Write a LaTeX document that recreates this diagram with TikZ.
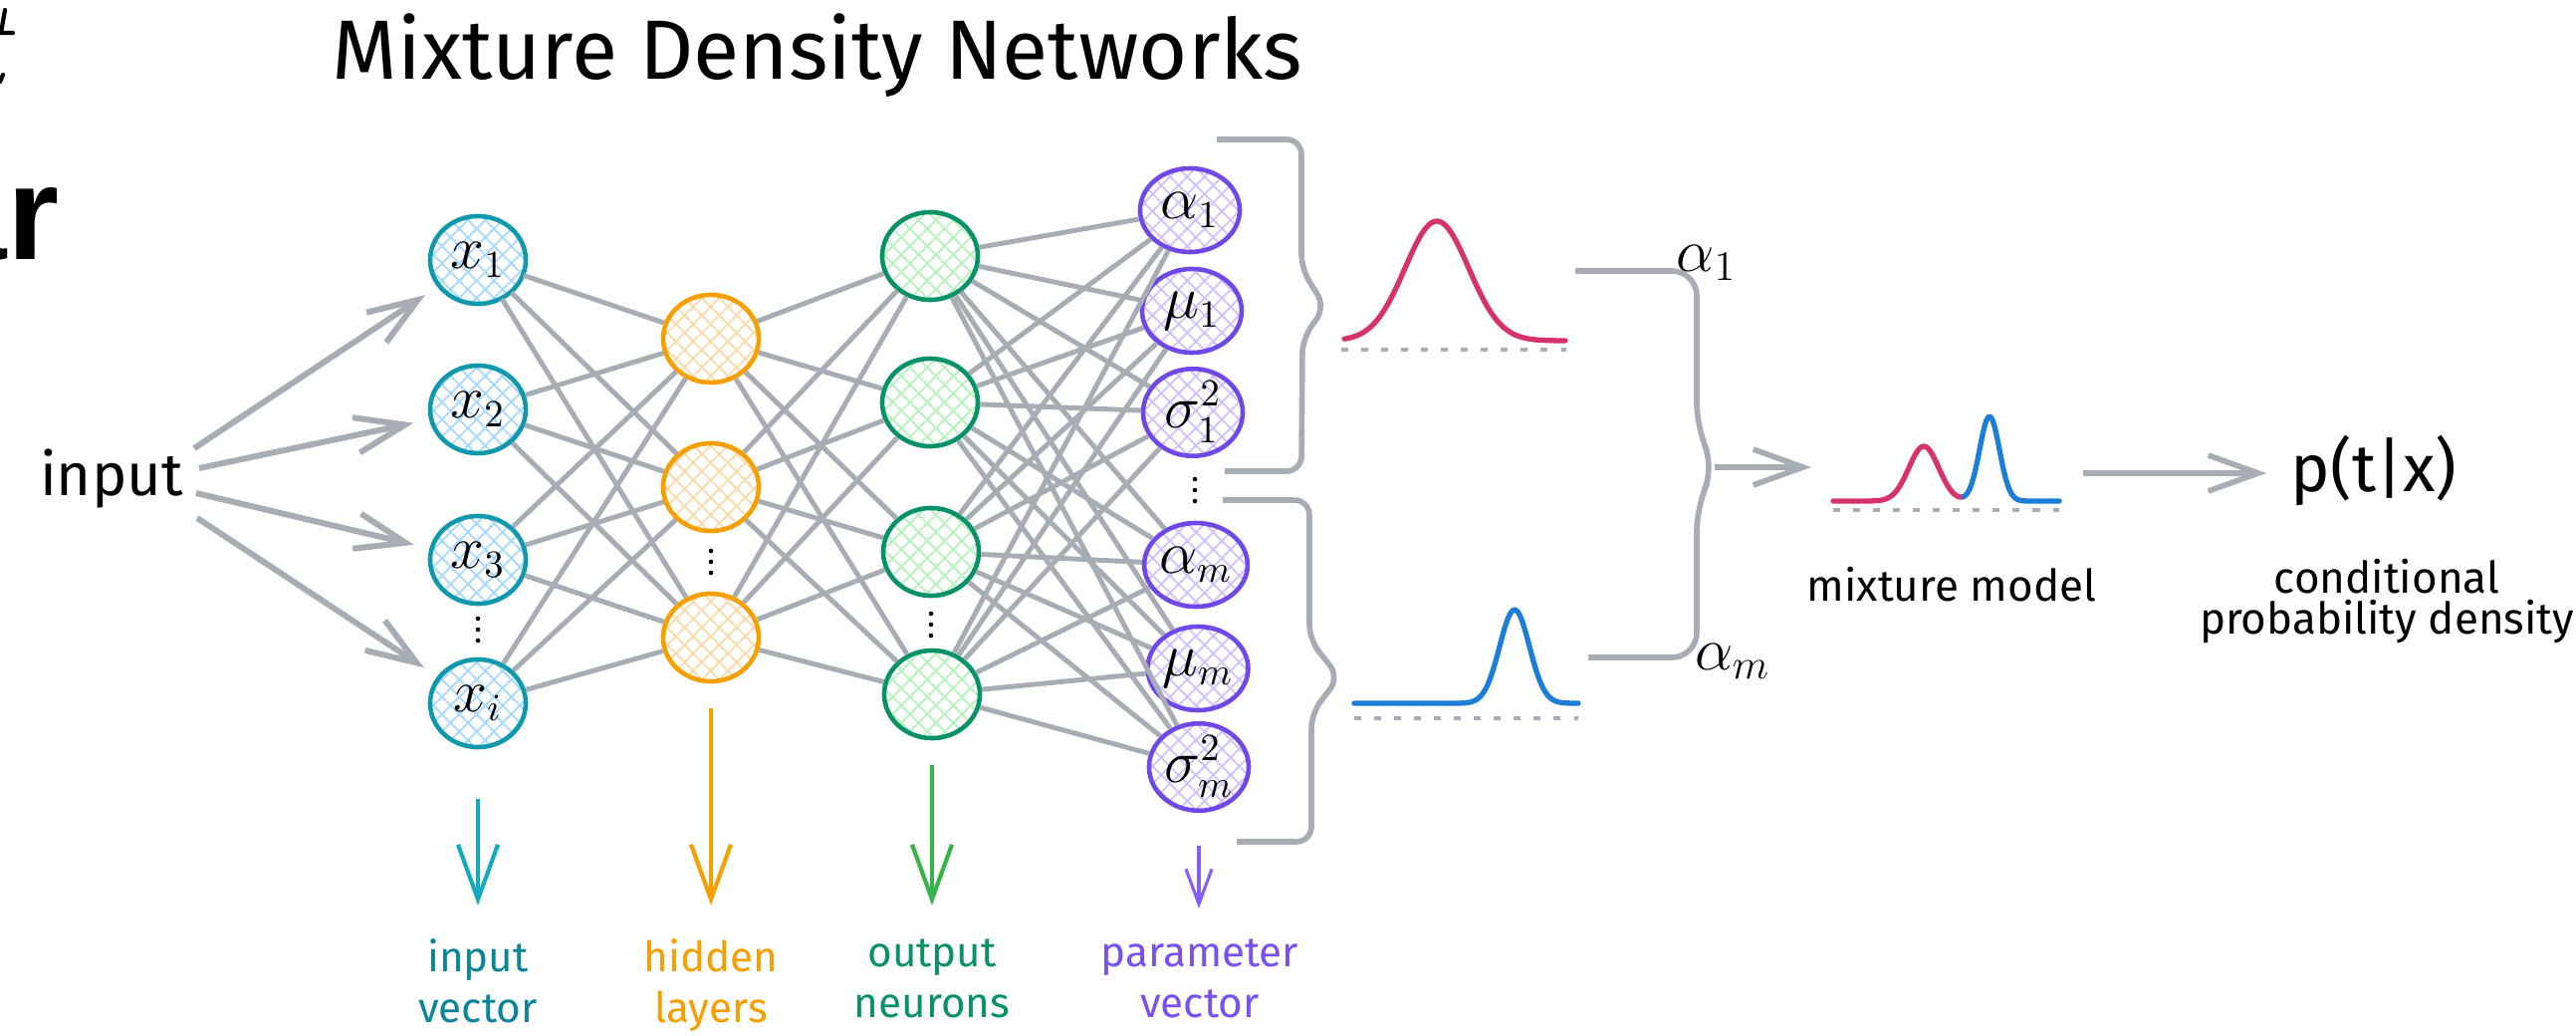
\documentclass[tikz,border=0pt]{standalone}
\usepackage{fontspec}
\setmainfont{Fira Sans}
\newfontfamily\fragfont{Liberation Sans}
\usetikzlibrary{arrows.meta,patterns.meta,shapes.geometric}
\definecolor{edgegray}{HTML}{A7ADB4}
\definecolor{tealB}{HTML}{1098AD}
\definecolor{tealH}{HTML}{A5D8FF}
\definecolor{tealA}{HTML}{15AABF}
\definecolor{tealT}{HTML}{0C8599}
\definecolor{orangeB}{HTML}{F59F00}
\definecolor{orangeH}{HTML}{FFD8A8}
\definecolor{greenB}{HTML}{099268}
\definecolor{greenH}{HTML}{B2F2BB}
\definecolor{greenA}{HTML}{37B24D}
\definecolor{violetB}{HTML}{7048E8}
\definecolor{violetH}{HTML}{D0BFFF}
\definecolor{violetA}{HTML}{845EF7}
\definecolor{violetT}{HTML}{7950F2}
\definecolor{gaussred}{HTML}{D6336C}
\definecolor{gaussblue}{HTML}{1C7ED6}

\begin{document}
\begin{tikzpicture}[x=0.01cm,y=-0.01cm,
  hatch/.style={preaction={pattern={Lines[angle=45,distance=3.5pt,line width=0.5pt]},pattern color=#1},
    pattern={Lines[angle=-45,distance=3.5pt,line width=0.5pt]},pattern color=#1},
  neuron/.style={ellipse,line width=1.3pt,minimum width=0.96cm,minimum height=0.88cm,
    inner sep=0pt,font=\fontsize{16}{16}\selectfont},
  tealnode/.style={neuron,draw=tealB,hatch=tealH},
  hidnode/.style={neuron,draw=orangeB,hatch=orangeH},
  outnode/.style={neuron,draw=greenB,hatch=greenH},
  parnode/.style={neuron,draw=violetB,hatch=violetH,minimum width=1.0cm,minimum height=0.84cm},
  edge/.style={draw=edgegray,line width=1.4pt},
  inarrow/.style={draw=edgegray,line width=1.7pt,-{Straight Barb[length=5mm,width=3.6mm]},shorten >=0.16cm},
  bigarrow/.style={draw=edgegray,line width=1.6pt,-{Straight Barb[length=5mm,width=3.6mm]}},
  brace/.style={draw=edgegray,line width=1.6pt,rounded corners=0.15cm},
  layerarrow/.style={line width=1.2pt,-{Straight Barb[length=5.5mm,width=4mm]},shorten <=0.25cm,shorten >=0.33cm},
  layerlabel/.style={anchor=north,align=center,inner sep=0pt,font=\fontsize{12}{14.5}\selectfont},
  baseline dash/.style={draw=edgegray,line width=0.9pt,dash pattern=on 2pt off 3.7pt},
  gauss/.style={line width=1.5pt,line join=round,line cap=round}]
  \useasboundingbox (0,0) rectangle (2587,1039);
  \fill[white] (0,0) rectangle (2587,1039);

  % cut-off fragments at the left border
  \node[font=\fragfont\bfseries\fontsize{38}{38}\selectfont,anchor=base east,inner sep=0pt] (frag) at (60,260) {ar};
  \draw[line width=1.2pt,line cap=round] (5,10) -- (1,33) -- (13,33);
  \draw[line width=1.2pt,line cap=round] (0,82) -- (3,75);

  \node[font=\fontsize{24}{28}\selectfont,anchor=base] (title) at (821,79) {Mixture Density Networks};

  % layers
  \node[tealnode] (in1) at (480,261) {$x_1$};
  \node[tealnode] (in2) at (480,411) {$x_2$};
  \node[tealnode] (in3) at (480,562) {$x_3$};
  \node[tealnode] (in4) at (480,706) {$x_i$};
  \node[hidnode] (hid1) at (714,340) {};
  \node[hidnode] (hid2) at (714,489) {};
  \node[hidnode] (hid3) at (714,640) {};
  \node[outnode] (out1) at (934,257) {};
  \node[outnode] (out2) at (934,404) {};
  \node[outnode] (out3) at (935,554) {};
  \node[outnode] (out4) at (936,697) {};
  \node[parnode] (par1) at (1195,211) {$\alpha_1$};
  \node[parnode] (par2) at (1197,312) {$\mu_1$};
  \node[parnode] (par3) at (1198,414) {$\sigma^2_1$};
  \node[parnode] (par4) at (1201,567) {$\alpha_m$};
  \node[parnode] (par5) at (1203,671) {$\mu_m$};
  \node[parnode] (par6) at (1204,770) {$\sigma^2_m$};
  % vertical dots between neurons
  \foreach \cx/\cy in {480/632, 714/564, 935/627, 1200/492} {
    \foreach \d in {-11,0,11} {\fill (\cx,{\cy+\d}) circle (2.3);}}

  \foreach \i in {1,...,4} {\foreach \j in {1,...,3} {\draw[edge] (in\i) -- (hid\j);}}
  \foreach \i in {1,...,3} {\foreach \j in {1,...,4} {\draw[edge] (hid\i) -- (out\j);}}
  \foreach \i in {1,...,4} {\foreach \j in {1,...,6} {\draw[edge] (out\i) -- (par\j);}}

  % input fan
  \node[font=\fontsize{17}{17}\selectfont,anchor=base,inner sep=0pt] (input) at (112,497) {input};
  \coordinate (inA) at (195,450);
  \coordinate (inB) at (200,470);
  \coordinate (inC) at (197,495);
  \coordinate (inD) at (198,520);
  \draw[inarrow] (inA) -- (in1);
  \draw[inarrow] (inB) -- (in2);
  \draw[inarrow] (inC) -- (in3);
  \draw[inarrow] (inD) -- (in4);

  % layer captions
  \node[layerlabel,text=tealT] (labin) at (480,942) {input\\vector};
  \node[layerlabel,text=orangeB] (labhid) at (714,942) {hidden\\layers};
  \node[layerlabel,text=greenB] (labout) at (936,942) {output\\neurons};
  \node[layerlabel,text=violetT] (labpar) at (1205,942) {parameter\\vector};
  \draw[layerarrow,tealA,shorten <=0.5cm] (in4.south) -- (in4.south |- labin.north);
  \draw[layerarrow,orangeB] (hid3.south) -- (hid3.south |- labhid.north);
  \draw[layerarrow,greenA] (out4.south) -- (out4.south |- labout.north);
  \draw[violetA,line width=0.9pt,-{Straight Barb[length=3.5mm,width=2.6mm]},shorten <=0.33cm,shorten >=0.3cm]
    (par6.south) -- (par6.south |- labpar.north);

  % braces and the two components
  \draw[brace] (1222,140) -- (1307,140) -- (1307,270) -- (1331,308) -- (1308,340) -- (1307,473) -- (1230,473);
  \draw[brace] (1228,502) -- (1315,502) -- (1315,642) -- (1345,680) -- (1317,716) -- (1317,845) -- (1242,845);
  \draw[baseline dash] (1347,351) -- (1573,351);
  \draw[gauss,gaussred] plot[domain=1350:1572,samples=90] (\x,{342-120*exp(-min(15,((\x-1443)/32)^2/2))});
  \draw[baseline dash] (1360,721) -- (1585,721);
  \draw[gauss,gaussblue] plot[domain=1360:1585,samples=90] (\x,{706-94*exp(-min(15,((\x-1521)/15)^2/2))});

  \draw[brace,rounded corners=0.25cm] (1582,272) -- (1704,272) -- (1704,430) -- (1722,469) -- (1704,508) -- (1704,660) -- (1595,660);
  \node[font=\fontsize{17}{17}\selectfont] (alab1) at (1714,264) {$\alpha_1$};
  \node[font=\fontsize{17}{17}\selectfont] (alabm) at (1740,664) {$\alpha_m$};

  % mixture and result
  \coordinate (mtip) at (1722,469);
  \coordinate (mixin) at (1819,469);
  \draw[bigarrow] (mtip) -- (mixin);
  \draw[baseline dash] (1841,512) -- (2068,512);
  \draw[gauss,gaussred] plot[domain=1841:1972,samples=70]
    (\x,{503-55*exp(-min(15,((\x-1932)/15)^2/2))-85*exp(-min(15,((\x-1998)/10)^2/2))});
  \draw[gauss,gaussblue] plot[domain=1972:2068,samples=60]
    (\x,{503-55*exp(-min(15,((\x-1932)/15)^2/2))-85*exp(-min(15,((\x-1998)/10)^2/2))});
  \node[font=\fontsize{12.5}{12.5}\selectfont,anchor=base] (mixlab) at (1960,603) {mixture model};

  \node[font=\fontsize{19}{19}\selectfont,anchor=base,inner sep=0pt] (ptx) at (2384,493) {p(t|x)};
  \coordinate (mixout) at (2092,475);
  \draw[bigarrow,shorten >=0.24cm] (mixout) -- (mixout -| ptx.west);
  \node[anchor=north,align=center,inner sep=0pt,font=\fontsize{12.5}{11.7}\selectfont] (ptxlab) at (2397,560)
    {conditional\\probability density};
\end{tikzpicture}
\end{document}
